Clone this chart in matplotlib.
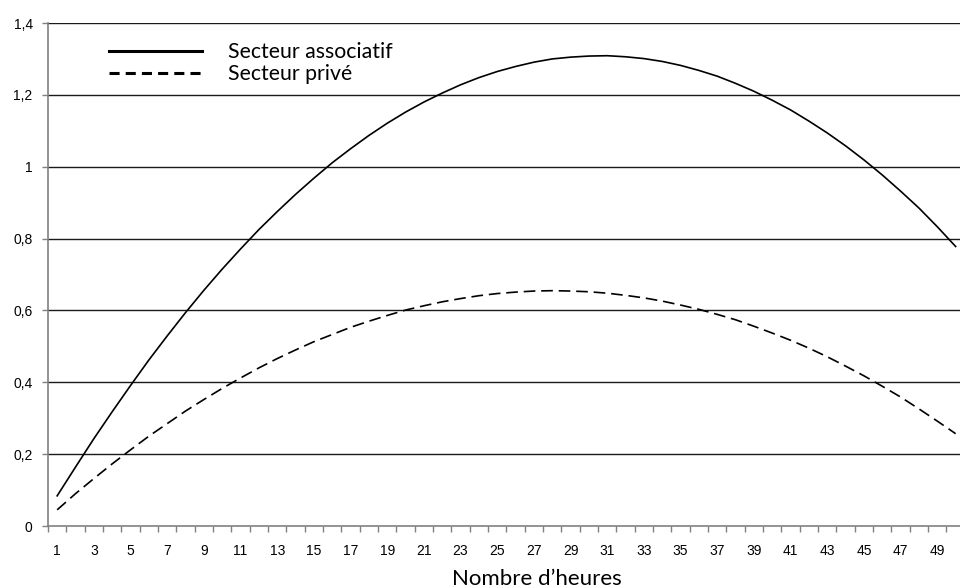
import numpy as np
import matplotlib
matplotlib.use('Agg')
import matplotlib.pyplot as plt
from matplotlib.lines import Line2D

# nombre d'heures (1 a 50)
heures = list(range(1, 51))

associatif = [0.084, 0.164, 0.243, 0.318, 0.391, 0.462, 0.529, 0.594, 0.656, 0.715,
              0.771, 0.825, 0.875, 0.923, 0.968, 1.011, 1.050, 1.087, 1.121, 1.152,
              1.180, 1.205, 1.228, 1.248, 1.265, 1.279, 1.291, 1.300, 1.305, 1.308,
              1.309, 1.306, 1.301, 1.293, 1.282, 1.268, 1.252, 1.232, 1.210, 1.185,
              1.158, 1.127, 1.094, 1.058, 1.019, 0.977, 0.932, 0.885, 0.833, 0.778]

prive = [0.045, 0.090, 0.132, 0.173, 0.212, 0.250, 0.285, 0.320, 0.352, 0.383,
         0.412, 0.440, 0.466, 0.490, 0.513, 0.533, 0.553, 0.570, 0.586, 0.601,
         0.613, 0.624, 0.633, 0.641, 0.647, 0.651, 0.654, 0.655, 0.654, 0.652,
         0.648, 0.642, 0.635, 0.626, 0.615, 0.603, 0.589, 0.574, 0.556, 0.537,
         0.517, 0.495, 0.471, 0.445, 0.418, 0.389, 0.359, 0.326, 0.292, 0.257]

yticks = [0, 0.2, 0.4, 0.6, 0.8, 1.0, 1.2, 1.4]
ylabels = ['0', '0,2', '0,4', '0,6', '0,8', '1', '1,2', '1,4']
xlabels = [str(h) for h in heures if h % 2 == 1]

fig = plt.figure(figsize=(9.6, 5.87), dpi=100)
ax = fig.add_axes([0.05, 0.1039, 0.955, 0.8569])

ax.plot(heures, associatif, color='black', linewidth=1.2, zorder=3)
ax.plot(heures, prive, color='black', linewidth=1.2, dashes=(7, 3.5), zorder=3)

ax.set_xlim(0.5, 50.5)
ax.set_ylim(0, 1.4)

# grille horizontale
for v in yticks[1:]:
    ax.axhline(v, color='#1a1a1a', linewidth=1.0, zorder=1)

ax.set_yticks(yticks)
ax.set_yticklabels(ylabels, fontsize=10, family='Liberation Sans')
ax.set_xticks([h for h in heures if h % 2 == 1])
ax.set_xticklabels(xlabels, fontsize=10, family='Liberation Sans')
ax.set_xticks(np.arange(0.5, 51, 1.0), minor=True)
ax.tick_params(axis='x', which='major', length=0, pad=13)
ax.tick_params(axis='x', which='minor', length=4, color='#808080', width=1)
ax.tick_params(axis='y', length=4, color='#808080', width=1, pad=7)

for s in ['top', 'right']:
    ax.spines[s].set_visible(False)
ax.spines['left'].set_color('#808080')
ax.spines['bottom'].set_color('#808080')
ax.spines['left'].set_linewidth(1.2)
ax.spines['bottom'].set_linewidth(1.2)

# titre de l'axe x (decale a droite comme dans l'original)
fig.text(537 / 960, 0.004, 'Nombre d\u2019heures', ha='center', va='baseline',
         fontsize=16, family='Lato')

handles = [Line2D([], [], color='black', linewidth=2.2),
           Line2D([], [], color='black', linewidth=2.2, dashes=(3.3, 2.0))]
leg = ax.legend(handles, ['Secteur associatif', 'Secteur priv\u00e9'],
                loc='upper left', bbox_to_anchor=(0.0455, 1.0), frameon=False,
                handlelength=4.4, handletextpad=1.2, labelspacing=0.1,
                prop={'family': 'Lato', 'size': 15.3})

plt.savefig('out.png', dpi=100)
